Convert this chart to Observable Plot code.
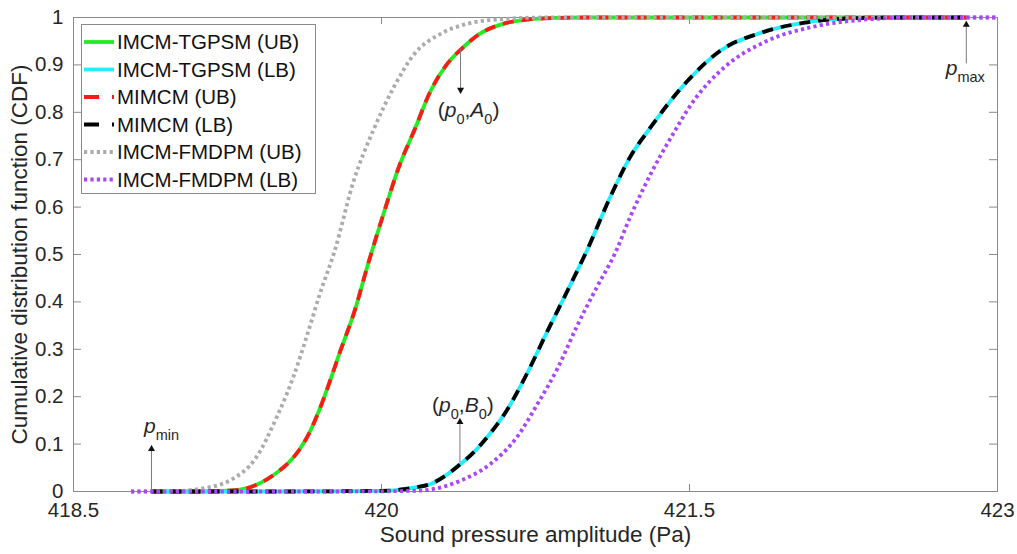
<!DOCTYPE html>
<html><head><meta charset="utf-8">
<script src="https://cdn.jsdelivr.net/npm/d3@7"></script>
<script src="https://cdn.jsdelivr.net/npm/@observablehq/plot@0.6"></script>
<style>
body{margin:0;background:#fff;font-family:"Liberation Sans",Arial,Helvetica,sans-serif;}
#wrap{position:relative;width:1017px;height:554px;}
#legend{position:absolute;left:81px;top:24px;}
</style></head><body><div id="wrap"></div>
<script>
// ---- tick labels ----
const xTicks = [418.5, 420, 421.5, 423];
const yTicks = [0, 0.1, 0.2, 0.3, 0.4, 0.5, 0.6, 0.7, 0.8, 0.9, 1];

// ---- series names ----
const seriesNames = ["IMCM-TGPSM (UB)", "IMCM-TGPSM (LB)", "MIMCM (UB)", "MIMCM (LB)", "IMCM-FMDPM (UB)", "IMCM-FMDPM (LB)"];

// ---- upper bound CDF (IMCM-TGPSM UB and MIMCM UB coincide) ----
const ubP   = [418.88, 419.1, 419.2, 419.31, 419.38, 419.44, 419.5, 419.55, 419.6, 419.65, 419.7, 419.74, 419.8, 419.87, 419.93, 420.01, 420.09, 420.16, 420.24, 420.32, 420.39, 420.48, 420.58, 420.7, 420.85, 421.0, 422.85];
const ubCdf = [0, 0, 0.001, 0.004, 0.012, 0.025, 0.043, 0.062, 0.088, 0.125, 0.175, 0.222, 0.297, 0.382, 0.473, 0.586, 0.691, 0.762, 0.846, 0.902, 0.934, 0.966, 0.985, 0.995, 0.999, 1, 1];

// ---- lower bound CDF (IMCM-TGPSM LB and MIMCM LB coincide) ----
const lbP   = [418.88, 419.5, 419.9, 420.05, 420.09, 420.17, 420.24, 420.31, 420.385, 420.45, 420.515, 420.61, 420.71, 420.81, 420.905, 421.0, 421.12, 421.21, 421.31, 421.49, 421.65, 421.85, 422.06, 422.28, 422.5, 422.85];
const lbCdf = [0, 0, 0.001, 0.002, 0.004, 0.009, 0.016, 0.033, 0.058, 0.083, 0.115, 0.171, 0.25, 0.34, 0.423, 0.508, 0.627, 0.705, 0.768, 0.866, 0.93, 0.968, 0.989, 0.998, 1, 1];

// ---- IMCM-FMDPM upper bound ----
const fmUbP   = [418.78, 419.0, 419.12, 419.26, 419.39, 419.49, 419.57, 419.64, 419.7, 419.77, 419.865, 419.96, 420.06, 420.16, 420.29, 420.42, 420.6, 420.8, 423.0];
const fmUbCdf = [0, 0.001, 0.006, 0.023, 0.072, 0.157, 0.241, 0.333, 0.417, 0.505, 0.656, 0.762, 0.853, 0.923, 0.966, 0.987, 0.997, 1, 1];

// ---- IMCM-FMDPM lower bound ----
const fmLbP   = [418.78, 419.8, 420.1, 420.19, 420.3, 420.385, 420.53, 420.66, 420.76, 420.86, 420.95, 421.05, 421.14, 421.21, 421.31, 421.41, 421.52, 421.67, 421.88, 422.12, 422.37, 422.6, 423.0];
const fmLbCdf = [0, 0, 0.001, 0.002, 0.01, 0.023, 0.058, 0.115, 0.185, 0.262, 0.347, 0.432, 0.505, 0.578, 0.669, 0.747, 0.824, 0.895, 0.951, 0.982, 0.996, 1, 1];

// ---- annotations ----
const annoLabels = ["p_min", "(p0,A0)", "(p0,B0)", "p_max"];
const annoP      = [418.88, 420.385, 420.382, 422.848];
const annoFrom   = [0, 0.934, 0.062, 0.903];
const annoTo     = [0.097, 0.84, 0.154, 0.992];
const annoLabelY = [0.137, 0.805, 0.181, 0.893];

// ---- styles ----
const seriesData = [[ubP, ubCdf], [lbP, lbCdf], [ubP, ubCdf], [lbP, lbCdf], [fmUbP, fmUbCdf], [fmLbP, fmLbCdf]];
const seriesColors = ["#22ec22", "#22eeff", "#ff1a1a", "#000000", "#ababab", "#a946fb"];
const seriesDash = [null, null, "11,8", "11,8", "3.2,3.2", "3.2,3.2"];
const legendDash = [null, null, "15,13", "15,13", "3.2,3.2", "3.2,3.2"];
const frameColor = "#8a8a8a";
const textColor = "#262626";

const W = 1017, H = 554, mL = 73, mR = 20, mT = 17, mB = 63;
const innerW = W - mL - mR, innerH = H - mT - mB;

const seriesRows = seriesData.map(([ps, cs], i) => ps.map((p, j) => ({series: seriesNames[i], p, cdf: cs[j]})));
const anno = annoLabels.map((label, i) => ({label, p: annoP[i], from: annoFrom[i], to: annoTo[i], ly: annoLabelY[i]}));

const lineMarks = seriesRows.map((rows, i) => Plot.line(rows, {
  x: "p", y: "cdf", stroke: seriesColors[i], strokeWidth: 3.8,
  strokeDasharray: seriesDash[i], strokeLinecap: "butt", curve: "monotone-x"
}));

const labelDx = [10, 8, 3, -1];
const textMarks = anno.map((a, i) => Plot.text([a], {
  x: "p", y: "ly", text: "label", dx: labelDx[i], fontSize: 21, fill: textColor, textAnchor: "middle", className: "anno-label"
}));

const chart = Plot.plot({
  width: W, height: H,
  marginLeft: mL, marginRight: mR, marginTop: mT, marginBottom: mB,
  x: {domain: [418.5, 423]},
  y: {domain: [0, 1]},
  style: {fontFamily: "'Liberation Sans', Arial, Helvetica, sans-serif", fontSize: "20.5px", color: textColor, background: "#fff", overflow: "visible"},
  marks: [
    Plot.frame({stroke: frameColor}),
    Plot.tickX(xTicks, {x: d => d, insetTop: innerH - 7, stroke: frameColor}),
    Plot.tickX(xTicks, {x: d => d, insetBottom: innerH - 7, stroke: frameColor}),
    Plot.tickY(yTicks, {y: d => d, insetRight: innerW - 8, stroke: frameColor}),
    Plot.tickY(yTicks, {y: d => d, insetLeft: innerW - 8, stroke: frameColor}),
    Plot.axisX({ticks: xTicks, tickSize: 0, tickPadding: 11, tickFormat: d => String(d),
      label: "Sound pressure amplitude (Pa)", labelAnchor: "center", labelOffset: 50, labelArrow: "none"}),
    Plot.axisY({ticks: yTicks, tickSize: 0, tickPadding: 10, tickFormat: d => String(+d.toFixed(1)),
      label: "Cumulative distribution function (CDF)", labelAnchor: "center", labelOffset: 62, labelArrow: "none"}),
    ...lineMarks,
    Plot.link(anno, {x1: "p", x2: "p", y1: "from", y2: "to", stroke: "#7a7a7a", strokeWidth: 1}),
    Plot.dot(anno.filter(a => a.to > a.from), {x: "p", y: "to", symbol: "triangle", r: 2.6, fill: "#111", stroke: null, dy: 3.5}),
    Plot.dot(anno.filter(a => a.to < a.from), {x: "p", y: "to", symbol: "triangle", r: 2.6, fill: "#111", stroke: null, rotate: 180, dy: -3.5}),
    ...textMarks
  ]
});

document.getElementById("wrap").appendChild(chart);

// axis label sizes
d3.select(chart).selectAll("text").each(function() {
  const t = this.textContent;
  if (t === "Sound pressure amplitude (Pa)" || t === "Cumulative distribution function (CDF)") {
    d3.select(this).attr("font-size", 22.5);
  }
});

// rich annotation labels (italic variable + subscripts)
const rich = {
  "p_min": [["p", "i"], ["min", "s"]],
  "p_max": [["p", "i"], ["max", "s"]],
  "(p0,A0)": [["(", ""], ["p", "i"], ["0", "s"], [",", "u"], ["A", "i"], ["0", "s"], [")", "u"]],
  "(p0,B0)": [["(", ""], ["p", "i"], ["0", "s"], [",", "u"], ["B", "i"], ["0", "s"], [")", "u"]]
};
d3.select(chart).selectAll(".anno-label text").each(function() {
  const parts = rich[this.textContent];
  if (!parts) return;
  const el = d3.select(this);
  el.text(null);
  let down = false;
  for (const [s, kind] of parts) {
    const ts = el.append("tspan").text(s);
    if (kind === "i") ts.attr("font-style", "italic");
    if (kind === "s") { ts.attr("font-size", 14.5).attr("dy", down ? 0 : 7); down = true; }
    else if (down) { ts.attr("dy", -7); down = false; }
  }
});

// legend
const lg = d3.select("#wrap").append("svg").attr("id", "legend")
  .attr("width", 235).attr("height", 170)
  .style("font-family", "'Liberation Sans', Arial, Helvetica, sans-serif");
lg.append("rect").attr("x", 0.5).attr("y", 0.5).attr("width", 234).attr("height", 169)
  .attr("fill", "#fff").attr("stroke", frameColor);
seriesNames.forEach((name, i) => {
  const yy = 18 + i * 27.5;
  lg.append("line").attr("x1", 3).attr("x2", 33).attr("y1", yy).attr("y2", yy)
    .attr("stroke", seriesColors[i]).attr("stroke-width", 3.8)
    .attr("stroke-dasharray", legendDash[i]);
  lg.append("text").attr("x", 36).attr("y", yy).attr("dy", "0.35em")
    .attr("font-size", 20.5).attr("fill", "#111").text(name);
});
</script></body></html>
